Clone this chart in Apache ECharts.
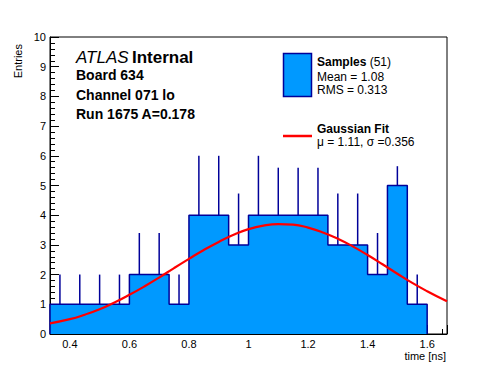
<!DOCTYPE html>
<html><head><meta charset="utf-8">
<script src="https://cdn.jsdelivr.net/npm/echarts@6/dist/echarts.min.js"></script>
<style>html,body{margin:0;padding:0;background:#fff}#c{width:496px;height:372px}</style>
</head><body><div id="c"></div>
<script>
// Histogram bins (time in ns)
const binEdges = [0.33333,0.4,0.46667,0.53333,0.6,0.66667,0.73333,0.8,0.86667,0.93333,1.0,1.06667,1.13333,1.2,1.26667,1.33333,1.4,1.46667,1.53333,1.6];
const counts   = [1,1,1,1,2,2,1,4,4,3,4,4,4,4,3,3,2,5,1];
const errTop   = [2,2,2,2,3.4,3.4,2,6,6,4.73,6,5.6,5.6,5.6,4.73,4.73,3.4,5.65,2];
// Gaussian fit curve
const fitX = [0.33333,0.4,0.45,0.5,0.55,0.6,0.65,0.7,0.75,0.8,0.85,0.9,0.95,1.0,1.05,1.1,1.15,1.2,1.25,1.3,1.35,1.4,1.45,1.5,1.55,1.6,1.66667];
const fitY = [0.36,0.50,0.65,0.83,1.06,1.32,1.60,1.90,2.22,2.53,2.83,3.10,3.34,3.53,3.65,3.70,3.68,3.58,3.42,3.21,2.95,2.66,2.35,2.03,1.72,1.44,1.10];
// Axis tick labels
const xTickLabels = ['0.4','0.6','0.8','1','1.2','1.4','1.6'];
const yTickLabels = ['0','1','2','3','4','5','6','7','8','9','10'];

const FILL = '#0099ff', EDGE = '#000099';
const FONT = '"Liberation Sans", Arial, Helvetica, sans-serif';

// step outline data
const stepData = [[binEdges[0], 0]];
for (let i = 0; i < counts.length; i++) stepData.push([binEdges[i], counts[i]]);
stepData.push([binEdges[binEdges.length - 1], counts[counts.length - 1]]);
stepData.push([binEdges[binEdges.length - 1], 0]);

const errData = counts.map((c, i) => [(binEdges[i] + binEdges[i + 1]) / 2, c, errTop[i]]);
const fitData = fitX.map((x, i) => [x, fitY[i]]);

const chart = echarts.init(document.getElementById('c'), null, {renderer: 'svg'});
chart.setOption({
  animation: false,
  backgroundColor: '#fff',
  grid: {left: 50, right: 49, top: 37, bottom: 38, show: true, borderColor: '#000', borderWidth: 1, backgroundColor: 'transparent'},
  xAxis: {
    type: 'value', min: 0.33333, max: 1.66667, minInterval: 0.2, maxInterval: 0.2, splitNumber: 7,
    axisLine: {lineStyle: {color: '#000', width: 1}},
    axisTick: {inside: true, length: 9, lineStyle: {color: '#000'}},
    minorTick: {show: true, splitNumber: 4, length: 5, lineStyle: {color: '#000'}},
    splitLine: {show: false},
    axisLabel: {
      showMinLabel: false, showMaxLabel: false, margin: 4, color: '#000', fontSize: 11, fontFamily: FONT,
      formatter: v => { const s = String(Math.round(v * 10) / 10); return xTickLabels.includes(s) ? s : ''; }
    }
  },
  yAxis: {
    type: 'value', min: 0, max: 10, interval: 1,
    axisLine: {show: true, lineStyle: {color: '#000', width: 1}},
    axisTick: {show: true, inside: true, length: 9, lineStyle: {color: '#000'}},
    minorTick: {show: true, splitNumber: 5, length: 5, lineStyle: {color: '#000'}},
    splitLine: {show: false},
    axisLabel: {margin: 4, color: '#000', fontSize: 11, fontFamily: FONT,
      formatter: v => yTickLabels[Math.round(v)] || ''}
  },
  series: [
    {
      type: 'line', step: 'end', data: stepData, showSymbol: false, symbol: 'none',
      lineStyle: {color: EDGE, width: 1.5}, areaStyle: {color: FILL, opacity: 1}, z: 2, silent: true
    },
    {
      type: 'custom', data: errData, z: 3, silent: true,
      renderItem: (params, api) => {
        const p0 = api.coord([api.value(0), api.value(1)]);
        const p1 = api.coord([api.value(0), api.value(2)]);
        return {type: 'line', shape: {x1: p0[0], y1: p0[1], x2: p1[0], y2: p1[1]}, style: {stroke: EDGE, lineWidth: 1.5}};
      }
    },
    {
      type: 'line', data: fitData, smooth: true, showSymbol: false, symbol: 'none',
      lineStyle: {color: '#ff0000', width: 2.2}, z: 4, silent: true
    }
  ],
  graphic: [
    {type: 'text', x: 76, y: 57, style: {text: '{i|ATLAS} {b|Internal}', verticalAlign: 'middle', fill: '#000',
      rich: {i: {fontStyle: 'italic', fontSize: 17, fontFamily: FONT}, b: {fontWeight: 'bold', fontSize: 17, fontFamily: FONT}}}},
    {type: 'text', x: 76, y: 75, style: {text: 'Board 634', font: 'bold 14px ' + FONT, verticalAlign: 'middle', fill: '#000'}},
    {type: 'text', x: 76, y: 95, style: {text: 'Channel 071 lo', font: 'bold 14px ' + FONT, verticalAlign: 'middle', fill: '#000'}},
    {type: 'text', x: 76, y: 114, style: {text: 'Run 1675 A=0.178', font: 'bold 14px ' + FONT, verticalAlign: 'middle', fill: '#000'}},
    {type: 'rect', shape: {x: 283.5, y: 53.5, width: 28, height: 43}, style: {fill: FILL, stroke: EDGE, lineWidth: 1.5}},
    {type: 'text', x: 317, y: 62, style: {text: '{b|Samples} {n|(51)}', verticalAlign: 'middle', fill: '#000',
      rich: {b: {fontWeight: 'bold', fontSize: 12, fontFamily: FONT}, n: {fontSize: 12, fontFamily: FONT}}}},
    {type: 'text', x: 317, y: 77, style: {text: 'Mean = 1.08', font: '12px ' + FONT, verticalAlign: 'middle', fill: '#000'}},
    {type: 'text', x: 317, y: 90, style: {text: 'RMS = 0.313', font: '12px ' + FONT, verticalAlign: 'middle', fill: '#000'}},
    {type: 'line', shape: {x1: 283, y1: 136, x2: 312, y2: 136}, style: {stroke: '#ff0000', lineWidth: 2.5}},
    {type: 'text', x: 317, y: 129, style: {text: 'Gaussian Fit', font: 'bold 12px ' + FONT, verticalAlign: 'middle', fill: '#000'}},
    {type: 'text', x: 317, y: 142, style: {text: 'μ = 1.11, σ =0.356', font: '12px ' + FONT, verticalAlign: 'middle', fill: '#000'}},
    {type: 'text', x: 446, y: 356, style: {text: 'time [ns]', font: '11px ' + FONT, align: 'right', verticalAlign: 'middle', fill: '#000'}},
    {type: 'text', x: 18, y: 44, rotation: Math.PI / 2, style: {text: 'Entries', font: '11px ' + FONT, align: 'right', verticalAlign: 'middle', fill: '#000'}}
  ]
});
</script>
</body></html>
